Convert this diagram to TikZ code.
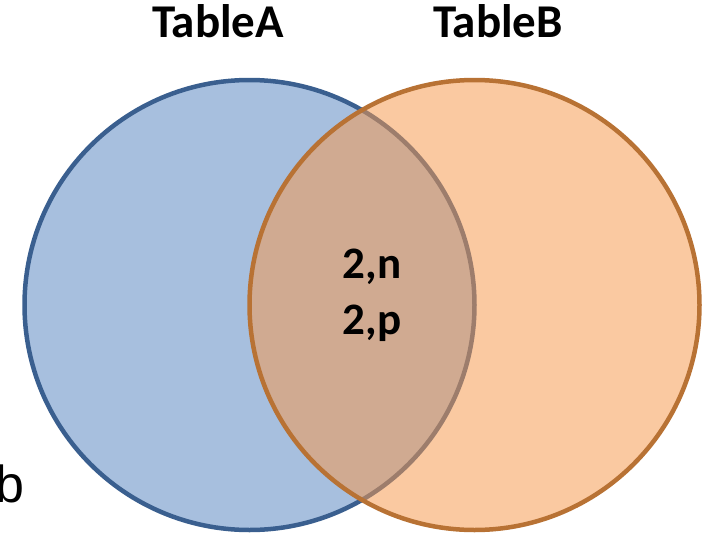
\documentclass[tikz,border=0pt]{standalone}
\usepackage{fontspec}
\setmainfont{Carlito}
\newfontfamily\arialfont{Liberation Sans}
\definecolor{blueFill}{HTML}{A7BFDE}
\definecolor{blueLine}{HTML}{3A5F8F}
\definecolor{orangeFill}{HTML}{F6994E}
\definecolor{orangeLine}{HTML}{B87234}
\tikzset{
  title/.style={font=\bfseries\fontsize{47}{52}\selectfont, anchor=base, inner sep=0pt},
  inner/.style={font=\bfseries\fontsize{45}{50}\selectfont, anchor=base, inner sep=0pt},
}
\begin{document}
\begin{tikzpicture}[x=1pt,y=-1pt]
\useasboundingbox (0,0) rectangle (704,533);
% circle A
\fill[blueFill] (249.5,305) circle (225);
\draw[blueLine, line width=4.5pt] (249.5,305) circle (225);
% circle B
\fill[orangeFill, opacity=0.53] (474.5,305) circle (225);
\draw[orangeLine, line width=4.5pt] (474.5,305) circle (225);
% texts
\node[title] (ta) at (218,37) {TableA};
\node[title] (tb) at (498,37) {TableB};
\node[inner] (n1) at (372,278) {2,n};
\node[inner] (n2) at (372,334) {2,p};
\node[font=\arialfont\fontsize{52}{60}\selectfont, anchor=base east, inner sep=0pt] (b) at (25,502) {b};
\end{tikzpicture}
\end{document}
